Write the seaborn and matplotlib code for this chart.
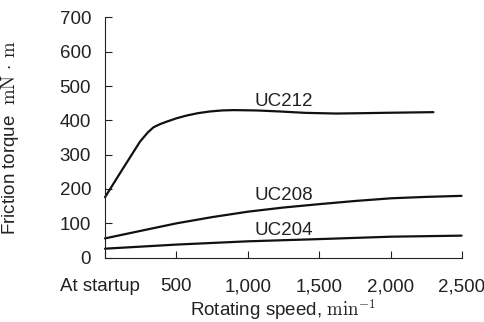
import numpy as np
import pandas as pd
import matplotlib
matplotlib.use('Agg')
import matplotlib.pyplot as plt
import matplotlib.transforms as mtransforms
import seaborn as sns

# friction torque (mN.m), rotating speed in min^-1 (0 = at startup)
uc212_speed = [0, 105, 245, 300, 340, 385, 430, 500, 570, 650, 735, 820, 900,
               1060, 1225, 1400, 1620, 1800, 1945, 2300]
uc212_torque = [176, 246, 338, 365, 380, 389, 396, 406, 414, 421, 426, 429, 430,
                429, 426, 422, 420, 421, 422, 424]

uc208_speed = [0, 250, 502, 750, 1003, 1250, 1505, 1750, 2007, 2250, 2497]
uc208_torque = [56, 78, 100, 118, 134, 146, 156, 165, 173, 177, 180]

uc204_speed = [0, 502, 1003, 1505, 2007, 2497]
uc204_torque = [26, 38, 47.5, 54, 61, 64]

x_ticks = [0, 500, 1000, 1500, 2000, 2500]
x_ticklabels = ['At startup', '500', '1,000', '1,500', '2,000', '2,500']
y_ticks = [0, 100, 200, 300, 400, 500, 600, 700]

# label positions (data coords)
labels = [('UC212', 1250, 456), ('UC208', 1250, 181), ('UC204', 1250, 80)]

df = pd.concat([
    pd.DataFrame({'speed': uc212_speed, 'torque': uc212_torque, 'bearing': 'UC212'}),
    pd.DataFrame({'speed': uc208_speed, 'torque': uc208_torque, 'bearing': 'UC208'}),
    pd.DataFrame({'speed': uc204_speed, 'torque': uc204_torque, 'bearing': 'UC204'}),
])

sns.set_style('ticks')
plt.rcParams['font.family'] = ['Liberation Sans', 'DejaVu Sans']
plt.rcParams['mathtext.fontset'] = 'cm'
fs = 13.5

fig = plt.figure(figsize=(4.85, 3.22), dpi=100)
ax = fig.add_axes([0.2165, 0.2, 0.736, 0.7457])

sns.lineplot(data=df, x='speed', y='torque', hue='bearing',
             palette={'UC212': '#111111', 'UC208': '#111111', 'UC204': '#111111'},
             linewidth=1.6, legend=False, ax=ax, sort=False)
for line in ax.get_lines():
    line.set_clip_on(False)

for name, x, y in labels:
    ax.text(x, y, name, ha='center', va='center', fontsize=fs, color='#222222')

ax.set_xlim(0, 2500)
ax.set_ylim(0, 700)
ax.set_xticks(x_ticks)
ax.set_xticklabels(x_ticklabels)
ax.set_yticks(y_ticks)
ax.tick_params(axis='both', direction='in', length=5, width=0.8,
               labelsize=fs, colors='#222222')
ax.tick_params(axis='x', pad=15)
ax.tick_params(axis='y', pad=10)

# "At startup" sits a little left of its tick in the original
shift = mtransforms.ScaledTranslation(-5 / 100, 0, fig.dpi_scale_trans)
first = ax.get_xticklabels()[0]
first.set_transform(first.get_transform() + shift)

sns.despine(ax=ax)
for sp in ['left', 'bottom']:
    ax.spines[sp].set_linewidth(0.8)
    ax.spines[sp].set_color('#222222')

ax.set_xlabel(r'Rotating speed, $\mathrm{min}^{-1}$', fontsize=fs, labelpad=1,
              color='#222222')
ax.set_ylabel(r'Friction torque  $\mathrm{mN\,\cdot\,m}$', fontsize=fs,
              color='#222222')
ax.yaxis.set_label_coords(-0.236, 0.5)

fig.savefig('out.png', dpi=100)
